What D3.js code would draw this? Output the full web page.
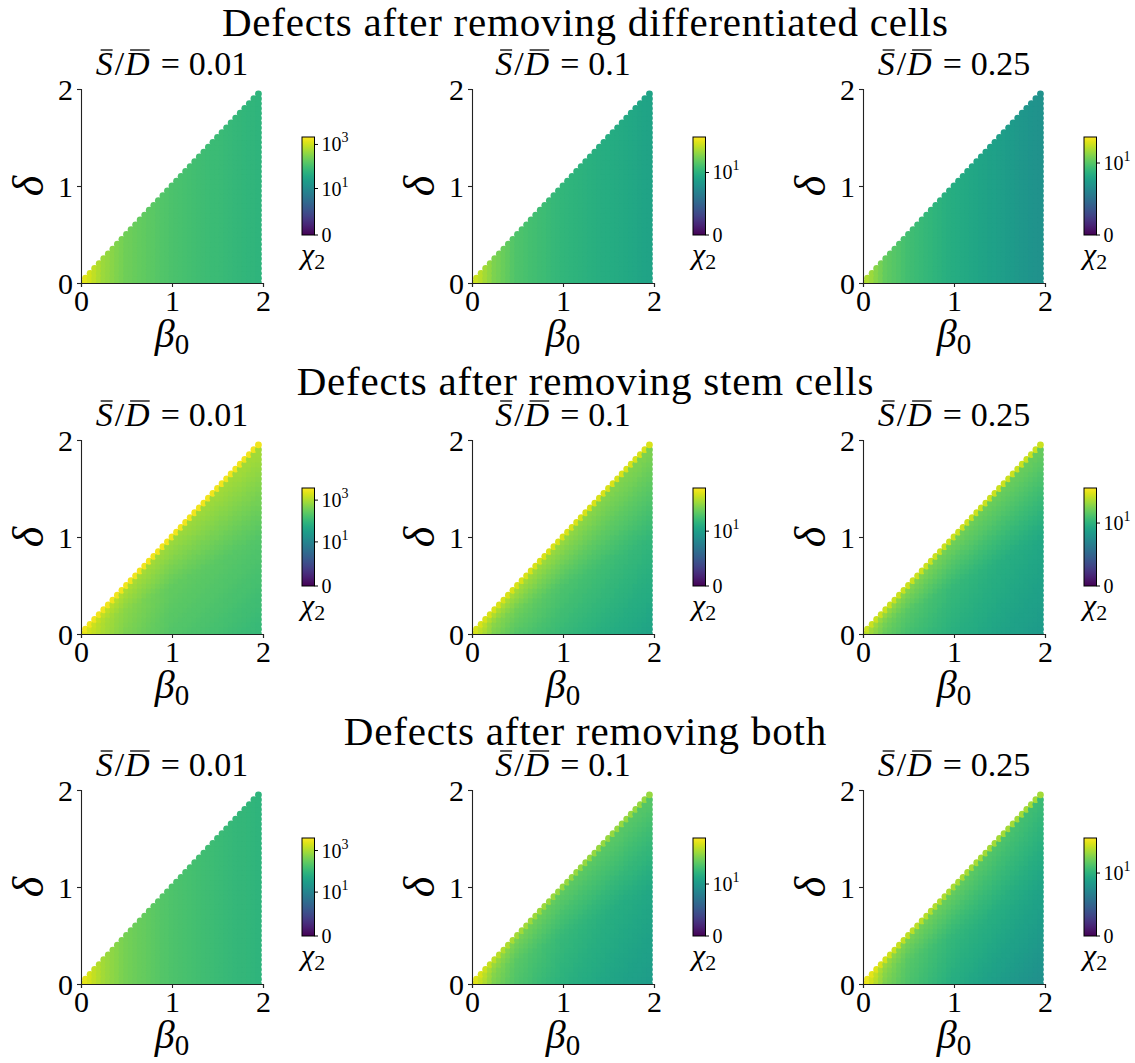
<!DOCTYPE html>
<html>
<head>
<meta charset="utf-8">
<script src="https://cdn.jsdelivr.net/npm/d3@7"></script>
<style>
  body { margin: 0; background: #fff; }
  text { font-family: "Liberation Serif", "DejaVu Serif", serif; fill: #000; }
</style>
</head>
<body>
<svg id="fig" width="1135" height="1063"></svg>
<script>
// titles of the three rows, and the S/D ratio of each column
const rowTitles = ["Defects after removing differentiated cells",
                   "Defects after removing stem cells",
                   "Defects after removing both"];
const ratioLabels = ["0.01", "0.1", "0.25"];
const axisTicks = [0, 1, 2];
const cbarTicks = [0, 10, 1000];

// sampled beta0 / delta values (step 0.05), only delta <= beta0 is drawn
const gridVals = d3.range(40).map(i => i * 0.05);

// chi2 at these beta0 values ...
const betaKnots = [0.05, 0.25, 0.5, 1, 1.5, 1.95];
// ... and at these delta/beta0 fractions (low, mid, just below edge), plus the edge itself
const fracKnots = [0, 0.5, 0.95];

// top of each colour bar
const chiMax = [[2180, 158, 58], [3800, 457, 150], [4000, 740, 150]];

// [panel][low, mid, high, edge][beta knot]
const chiDiff = [
  [[1400, 470, 230, 120, 82, 60], [1400, 470, 230, 120, 82, 60], [1400, 470, 230, 120, 82, 60], [1400, 470, 230, 120, 82, 60]],
  [[87, 35, 19, 11.7, 8.7, 6.5], [87, 35, 19, 11.7, 8.7, 6.5], [87, 35, 19, 11.7, 8.7, 6.5], [87, 35, 19, 11.7, 8.7, 6.5]],
  [[26, 11.8, 7.9, 4.7, 3.2, 2.2], [26, 11.8, 7.9, 4.7, 3.2, 2.2], [26, 11.8, 7.9, 4.7, 3.2, 2.2], [26, 11.8, 7.9, 4.7, 3.2, 2.2]]
];
const chiStem = [
  [[2200, 930, 440, 205, 150, 107], [2200, 1000, 550, 285, 240, 206], [2200, 1600, 1040, 755, 800, 835], [3000, 3000, 3000, 3000, 3000, 3000]],
  [[250, 81, 44, 26, 17, 12], [250, 104, 68, 40, 31, 24], [250, 191, 148, 114, 88, 81], [270, 270, 270, 270, 270, 270]],
  [[61, 25, 15.6, 9.2, 6.3, 4.7], [61, 31, 21, 12.4, 9.2, 7.3], [61, 52, 39, 29, 26.5, 25], [83, 83, 83, 83, 83, 83]]
];
const chiBoth = [
  [[2570, 870, 410, 191, 124, 90], [2570, 870, 410, 191, 124, 90], [2570, 870, 410, 191, 124, 90], [2570, 870, 410, 191, 124, 90]],
  [[470, 118, 57, 27, 17, 12], [470, 142, 69, 36, 25, 19], [470, 206, 118, 75, 69, 63], [470, 297, 206, 171, 171, 171]],
  [[120, 33, 18, 8.5, 5.0, 3.4], [120, 39, 21, 11.5, 8.5, 6.3], [120, 52, 33, 25, 18, 13.4], [120, 89, 71, 56, 52, 52]]
];
const chiRows = [chiDiff, chiStem, chiBoth];

// layout
const colX = [81, 472, 863];
const rowY = [89, 440, 790];
const aw = 182, ah = 194;
const titleCx = 585;
const titleBase = [36, 395, 745];

const svg = d3.select("#fig");

// matplotlib-like symlog (linthresh 1, linscale 1, base 10)
const linAdj = 1 / (1 - 1 / 10);
function symlog(v) { return v <= 1 ? v * linAdj : linAdj + Math.log10(v); }

// colour bar gradient
const defs = svg.append("defs");
const grad = defs.append("linearGradient").attr("id", "viridis")
  .attr("x1", 0).attr("y1", 1).attr("x2", 0).attr("y2", 0);
d3.range(0, 1.0001, 0.05).forEach(t => {
  grad.append("stop").attr("offset", t).attr("stop-color", d3.interpolateViridis(t));
});

// row titles
rowTitles.forEach((t, r) => {
  svg.append("text").attr("class", "rowtitle")
    .attr("x", titleCx).attr("y", titleBase[r])
    .attr("text-anchor", "middle").attr("font-size", 41)
    .text(t);
});

let eqGap = null;  // space around "=" in the subplot titles

rowTitles.forEach((_, r) => {
  ratioLabels.forEach((lab, c) => {
    const x0 = colX[c], y0 = rowY[r];
    const g = svg.append("g").attr("transform", `translate(${x0},${y0})`);
    const x = d3.scaleLinear().domain([0, 2]).range([0, aw]);
    const y = d3.scaleLinear().domain([0, 2]).range([ah, 0]);
    const vmax = chiMax[r][c];
    const color = d3.scaleSequential(d3.interpolateViridis).domain([0, symlog(vmax)]);

    const readings = chiRows[r][c];
    const byBeta = readings.map(arr =>
      d3.scaleLinear().domain(betaKnots).range(arr.map(symlog)).clamp(true));

    const pts = [];
    gridVals.forEach((b, i) => {
      gridVals.forEach((d, j) => {
        if (j > i) return;
        let u;
        if (j === i) u = byBeta[3](b);
        else {
          const f = d / b;
          u = d3.scaleLinear().domain(fracKnots)
            .range([byBeta[0](b), byBeta[1](b), byBeta[2](b)]).clamp(true)(f);
        }
        pts.push({ b, d, u });
      });
    });

    const clipId = `clip-${r}-${c}`;
    defs.append("clipPath").attr("id", clipId)
      .append("rect").attr("x", 0).attr("y", 0).attr("width", aw).attr("height", ah);

    g.append("g").attr("clip-path", `url(#${clipId})`)
      .selectAll("circle").data(pts).enter().append("circle")
      .attr("cx", p => x(p.b)).attr("cy", p => y(p.d))
      .attr("r", 3.4)
      .attr("fill", p => color(p.u));

    // axes (left + bottom spines only)
    const xAxis = g.append("g").attr("transform", `translate(0,${ah})`)
      .call(d3.axisBottom(x).tickValues(axisTicks).tickFormat(d3.format("d")).tickSize(4).tickPadding(3));
    const yAxis = g.append("g")
      .call(d3.axisLeft(y).tickValues(axisTicks).tickFormat(d3.format("d")).tickSize(4).tickPadding(4));
    [xAxis, yAxis].forEach(a => {
      a.select(".domain").attr("stroke", "#222").attr("stroke-width", 1.1);
      a.selectAll(".tick line").attr("stroke", "#222").attr("stroke-width", 1.1);
      a.selectAll(".tick text").attr("font-size", 30).attr("fill", "#000");
    });
    yAxis.selectAll(".tick text").attr("dy", "0.34em");
    xAxis.selectAll(".tick text").attr("dy", "0.7em");

    // axis labels
    const xl = g.append("text").attr("x", aw / 2).attr("y", ah + 64)
      .attr("text-anchor", "middle").attr("font-size", 40);
    xl.append("tspan").attr("font-style", "italic").text("β");
    xl.append("tspan").attr("font-size", 29).attr("dy", 7).text("0");

    g.append("text").attr("transform", `translate(-38,${ah / 2}) rotate(-90)`)
      .attr("text-anchor", "middle").attr("font-size", 44).attr("font-style", "italic")
      .text("δ");

    // subplot title with overbars, math-style space around "="
    const st = g.append("text").attr("class", "subtitle")
      .attr("x", aw / 2).attr("y", -14)
      .attr("text-anchor", "middle").attr("font-size", 34);
    st.append("tspan").attr("font-style", "italic").text("S");
    st.append("tspan").attr("dx", 2).text("/");
    st.append("tspan").attr("dx", 1).attr("font-style", "italic").text("D");
    const eq = st.append("tspan").text("=");
    const val = st.append("tspan").text(lab);
    if (eqGap === null) eqGap = Math.min(11, Math.max(6, (170 - st.node().getComputedTextLength()) / 2));
    eq.attr("dx", eqGap);
    val.attr("dx", eqGap - 2);
    [0, 2].forEach(ci => {
      const e = st.node().getExtentOfChar(ci);
      g.append("line")
        .attr("x1", e.x + 5).attr("x2", e.x + e.width)
        .attr("y1", e.y + 5).attr("y2", e.y + 5)
        .attr("stroke", "#000").attr("stroke-width", 1.3);
    });

    // colour bar
    const cbx = 221, cby = 48, cbw = 12.5, cbh = 98;
    const cb = g.append("g").attr("transform", `translate(${cbx},${cby})`);
    cb.append("rect").attr("width", cbw).attr("height", cbh)
      .attr("fill", "url(#viridis)").attr("stroke", "#000").attr("stroke-width", 1);
    const cs = d3.scaleLinear().domain([0, symlog(vmax)]).range([cbh, 0]);
    cbarTicks.filter(v => v <= vmax).forEach(v => {
      const yy = cs(symlog(v));
      cb.append("line").attr("x1", cbw).attr("x2", cbw + 3.5)
        .attr("y1", yy).attr("y2", yy).attr("stroke", "#000").attr("stroke-width", 1);
      const tl = cb.append("text").attr("x", cbw + 7).attr("y", yy + 7)
        .attr("font-size", 20);
      if (v === 0) tl.text("0");
      else {
        tl.append("tspan").text("10");
        tl.append("tspan").attr("font-size", 14).attr("dy", -9)
          .text(String(Math.round(Math.log10(v))));
      }
    });
    const cl = cb.append("text").attr("x", -1).attr("y", cbh + 29).attr("font-size", 30);
    cl.append("tspan").attr("font-style", "italic").text("χ");
    cl.append("tspan").attr("font-size", 22).attr("dy", 5).text("2");
  });
});

// stretch title spacing towards the wider TeX look
const firstW = svg.select(".rowtitle").node().getComputedTextLength();
const k = 726 / firstW;
svg.selectAll(".rowtitle").each(function () {
  const w = this.getComputedTextLength();
  d3.select(this).attr("textLength", w * k);
});
</script>
</body>
</html>
